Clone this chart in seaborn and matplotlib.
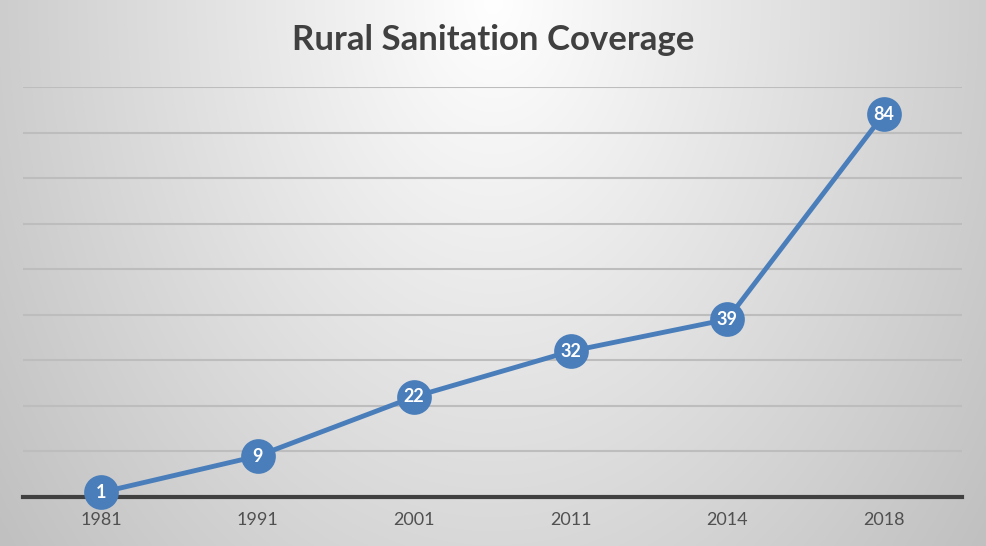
import numpy as np
import pandas as pd
import matplotlib
matplotlib.use('Agg')
import matplotlib.pyplot as plt
import seaborn as sns

# data
years = ['1981', '1991', '2001', '2011', '2014', '2018']
coverage = [1, 9, 22, 32, 39, 84]

df = pd.DataFrame({'year': years, 'coverage': coverage})

sns.set_style('white')
plt.rcParams['font.family'] = ['Lato', 'DejaVu Sans']

blue = '#4a7ebb'

fig = plt.figure(figsize=(9.86, 5.46), dpi=100)

# radial grey background (white at top centre)
bg = fig.add_axes([0, 0, 1, 1], zorder=-10)
h, w = 546, 986
yy, xx = np.mgrid[0:h, 0:w]
r = np.sqrt(((xx - 493) / 624.0) ** 2 + (yy / 880.0) ** 2)
r = np.clip(r, 0, 1)
shade = 255 - r * 63
img = np.dstack([shade, shade, shade]).astype(np.uint8)
bg.imshow(img, aspect='auto', extent=[0, 1, 0, 1])
bg.axis('off')

ax = fig.add_axes([23 / 986, 1 - 497 / 546, 939 / 986, 410 / 546])
ax.patch.set_alpha(0)

sns.lineplot(data=df, x='year', y='coverage', sort=False, color=blue,
             linewidth=3.5, marker='o', markersize=25, markeredgewidth=0,
             ax=ax, zorder=3, clip_on=False)

for i, v in enumerate(coverage):
    ax.text(i, v, str(v), color='white', fontsize=13, fontweight='bold',
            ha='center', va='center', zorder=4)

ax.set_xlim(-0.5, len(years) - 0.5)
ax.set_ylim(0, 90)
ax.set_yticks(range(0, 91, 10))
ax.yaxis.grid(True, color='#bdbdbd', linewidth=1.5)
ax.set_axisbelow(True)
ax.tick_params(axis='y', left=False, labelleft=False)
ax.tick_params(axis='x', bottom=False, labelsize=13, labelcolor='#505050', pad=7)
ax.set_xlabel('')
ax.set_ylabel('')
for s in ['top', 'right', 'left']:
    ax.spines[s].set_visible(False)
ax.spines['bottom'].set_color('#404040')
ax.spines['bottom'].set_linewidth(3)
ax.spines['bottom'].set_zorder(2)

fig.text(0.5, 1 - 40 / 546, 'Rural Sanitation Coverage', ha='center', va='center',
         fontsize=25, fontweight='bold', color='#404040')

fig.savefig('out.png', dpi=100)
